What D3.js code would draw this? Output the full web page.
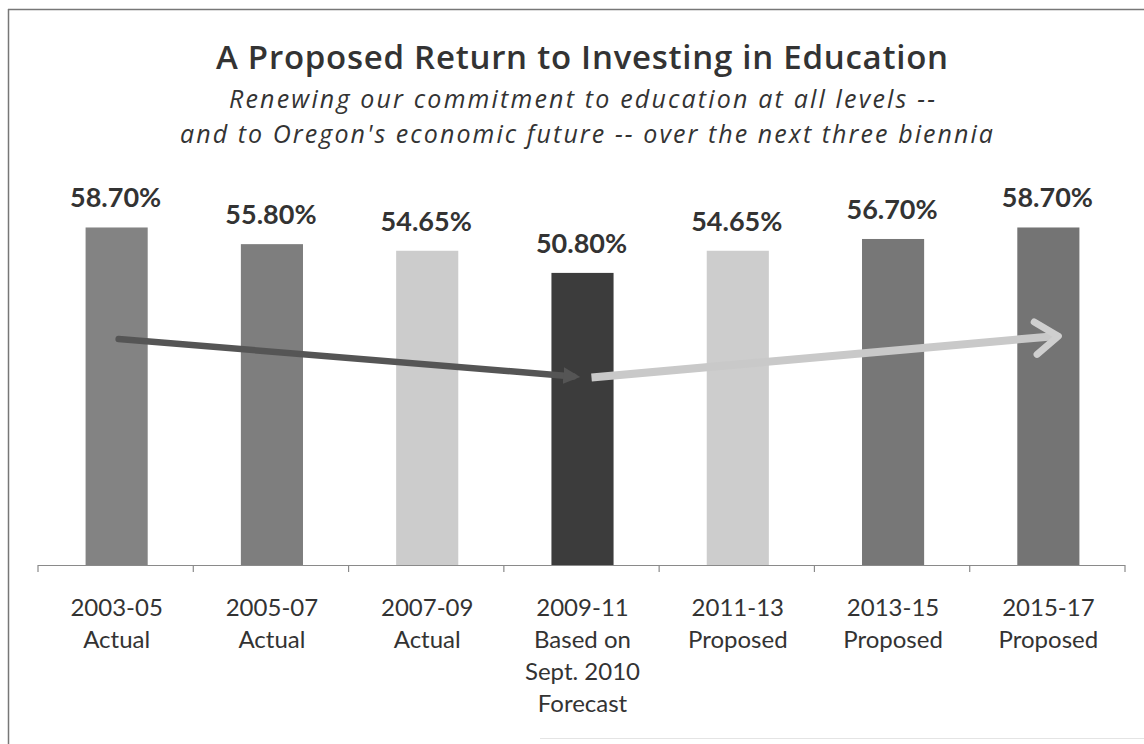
<!DOCTYPE html>
<html>
<head>
<meta charset="utf-8">
<script src="https://cdn.jsdelivr.net/npm/d3@7"></script>
<style>
  body { margin: 0; background: #fff; }
  svg { display: block; font-family: Lato, "Open Sans", sans-serif; }
</style>
</head>
<body>
<svg id="chart" width="1144" height="744"></svg>
<script>
// biennium categories, each label split in lines
const periods = ["2003-05", "2005-07", "2007-09", "2009-11", "2011-13", "2013-15", "2015-17"];
const periodNotes = [
  ["Actual"], ["Actual"], ["Actual"],
  ["Based on", "Sept. 2010", "Forecast"],
  ["Proposed"], ["Proposed"], ["Proposed"]
];
// share of general fund going to education (%)
const shares = [58.70, 55.80, 54.65, 50.80, 54.65, 56.70, 58.70];
const barFills = ["#838383", "#7e7e7e", "#cccccc", "#3c3c3c", "#cdcdcd", "#777777", "#747474"];

// trend arrows, drawn in value space
const trendDown = { from: "2003-05", to: "2009-11", v0: 39.3, v1: 32.8 };
const trendUp = { from: "2009-11", to: "2015-17", v0: 32.6, v1: 39.8 };

const svg = d3.select("#chart");

// frame of the scanned chart
svg.append("line").attr("x1", 8).attr("x2", 1144).attr("y1", 9.5).attr("y2", 9.5)
  .attr("stroke", "#777").attr("stroke-width", 1.5);
svg.append("line").attr("x1", 8.5).attr("x2", 8.5).attr("y1", 9).attr("y2", 744)
  .attr("stroke", "#777").attr("stroke-width", 1.5);
svg.append("line").attr("x1", 540).attr("x2", 1144).attr("y1", 738.5).attr("y2", 738.5)
  .attr("stroke", "#e4e4e4").attr("stroke-width", 1);

// titles (widths pinned to the scan)
svg.append("text").attr("x", 582).attr("y", 69).attr("text-anchor", "middle")
  .attr("textLength", 732).attr("lengthAdjust", "spacing")
  .style("font-family", "'Open Sans', sans-serif")
  .style("font-size", "33px").style("font-weight", 600).attr("fill", "#333")
  .text("A Proposed Return to Investing in Education");
svg.append("text").attr("x", 582).attr("y", 108).attr("text-anchor", "middle")
  .attr("textLength", 706).attr("lengthAdjust", "spacing")
  .style("font-family", "'Open Sans', sans-serif")
  .style("font-size", "25px").style("font-style", "italic").attr("fill", "#333")
  .text("Renewing our commitment to education at all levels --");
svg.append("text").attr("x", 586.5).attr("y", 143).attr("text-anchor", "middle")
  .attr("textLength", 813).attr("lengthAdjust", "spacing")
  .style("font-family", "'Open Sans', sans-serif")
  .style("font-size", "25px").style("font-style", "italic").attr("fill", "#333")
  .text("and to Oregon's economic future -- over the next three biennia");

const x = d3.scaleBand().domain(periods).range([38, 1125]).paddingInner(0.6).paddingOuter(0.3);
const y = d3.scaleLinear().domain([0, 60]).range([565, 220]);

// bars
svg.append("g").selectAll("rect")
  .data(shares)
  .join("rect")
  .attr("x", (d, i) => x(periods[i]) + 1)
  .attr("y", d => y(d))
  .attr("width", x.bandwidth())
  .attr("height", d => y(0) - y(d))
  .attr("fill", (d, i) => barFills[i]);

// value labels
svg.append("g").selectAll("text")
  .data(shares)
  .join("text")
  .attr("x", (d, i) => x(periods[i]) + x.bandwidth() / 2)
  .attr("y", d => y(d) - 20)
  .attr("text-anchor", "middle")
  .style("font-size", "27px").style("font-weight", 700).attr("fill", "#333")
  .text(d => d.toFixed(2) + "%");

// category axis: line and ticks at band boundaries
const step = x.step();
const axisG = svg.append("g");
axisG.append("line").attr("x1", 38).attr("x2", 1125).attr("y1", 565.5).attr("y2", 565.5)
  .attr("stroke", "#8a8a8a").attr("stroke-width", 1.2);
axisG.selectAll("line.tick")
  .data(d3.range(periods.length + 1))
  .join("line").attr("class", "tick")
  .attr("x1", i => 38 + i * step).attr("x2", i => 38 + i * step)
  .attr("y1", 565).attr("y2", 572)
  .attr("stroke", "#8a8a8a").attr("stroke-width", 1.2);

const labels = axisG.selectAll("text.cat")
  .data(periods)
  .join("text").attr("class", "cat")
  .attr("x", d => x(d) + x.bandwidth() / 2)
  .attr("y", 616)
  .attr("text-anchor", "middle")
  .style("font-size", "24px").attr("fill", "#333");
labels.each(function(d, i) {
  const t = d3.select(this);
  [d].concat(periodNotes[i]).forEach((line, k) => {
    t.append("tspan").attr("x", x(d) + x.bandwidth() / 2 + 1).attr("y", 616 + k * 32).text(line);
  });
});

// trend arrows
const cx = p => x(p) + x.bandwidth() / 2;

const defs = svg.append("defs");
defs.append("marker").attr("id", "headDark")
  .attr("viewBox", "0 0 10 10").attr("refX", 6).attr("refY", 5)
  .attr("markerWidth", 2.6).attr("markerHeight", 2.6).attr("orient", "auto")
  .append("path").attr("d", "M0,0 L10,5 L0,10 z").attr("fill", "#555");

svg.append("line")
  .attr("x1", cx(trendDown.from) + 3).attr("y1", y(trendDown.v0))
  .attr("x2", cx(trendDown.to) - 8).attr("y2", y(trendDown.v1))
  .attr("stroke", "#555").attr("stroke-width", 6.5).attr("stroke-linecap", "round")
  .attr("marker-end", "url(#headDark)");

const ux0 = cx(trendUp.from) + 10, uy0 = y(trendUp.v0);
const ux1 = cx(trendUp.to) + 11, uy1 = y(trendUp.v1);
svg.append("line")
  .attr("x1", ux0).attr("y1", uy0).attr("x2", ux1 - 4).attr("y2", uy1)
  .attr("stroke", "#c9c9c9").attr("stroke-width", 8);
// open chevron head
const ang = Math.atan2(uy1 - uy0, ux1 - ux0);
const arm = 28, spread = 0.62;
svg.append("path")
  .attr("d", "M" + (ux1 - arm * Math.cos(ang - spread)) + "," + (uy1 - arm * Math.sin(ang - spread)) +
    " L" + ux1 + "," + uy1 +
    " L" + (ux1 - arm * Math.cos(ang + spread)) + "," + (uy1 - arm * Math.sin(ang + spread)))
  .attr("fill", "none").attr("stroke", "#cfcfcf").attr("stroke-width", 7)
  .attr("stroke-linejoin", "round").attr("stroke-linecap", "round");
</script>
</body>
</html>
